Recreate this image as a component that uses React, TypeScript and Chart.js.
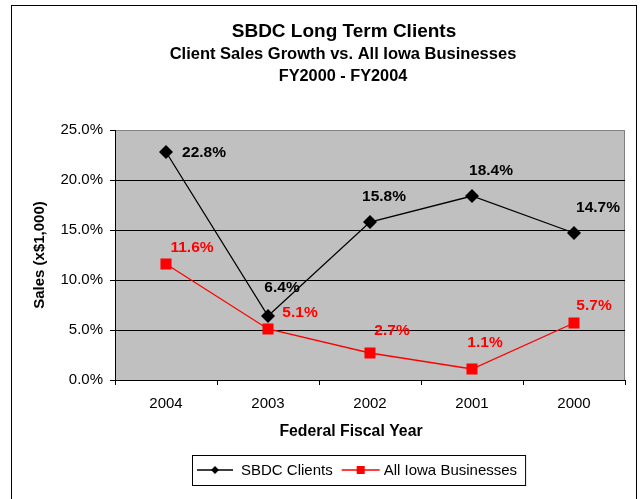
import React, { useEffect, useRef } from "react";
import { Chart, registerables } from "chart.js";

Chart.register(...registerables);

// ---- data ----
const titleLines = [
  "SBDC Long Term Clients",
  "Client Sales Growth vs. All Iowa Businesses",
  "FY2000 - FY2004",
];
const categories = ["2004", "2003", "2002", "2001", "2000"];
const sbdcClients = [22.8, 6.4, 15.8, 18.4, 14.7];
const allIowaBusinesses = [11.6, 5.1, 2.7, 1.1, 5.7];
const seriesNames = ["SBDC Clients", "All Iowa Businesses"];
const yMin = 0;
const yMax = 25;
const yStep = 5;
const xAxisTitle = "Federal Fiscal Year";
const yAxisTitle = "Sales (x$1,000)";

// ---- styles ----
const FONT = '"Liberation Sans", Arial, Helvetica, sans-serif';
const seriesColors = ["#000000", "#FF0000"];
// data-label offsets (label centre relative to point), per series / per point
const labelOffsets = [
  [[38, 1], [14, -28], [14, -25], [19, -25], [24, -25]],
  [[26, -16], [32, -16], [22, -22], [13, -26], [20, -17]],
];

function drawMarker(ctx: CanvasRenderingContext2D, style: string, x: number, y: number, r: number, color: string) {
  ctx.save();
  ctx.fillStyle = color;
  ctx.beginPath();
  if (style === "rectRot") {
    ctx.moveTo(x, y - r);
    ctx.lineTo(x + r, y);
    ctx.lineTo(x, y + r);
    ctx.lineTo(x - r, y);
    ctx.closePath();
  } else {
    ctx.rect(x - r, y - r, 2 * r, 2 * r);
  }
  ctx.fill();
  ctx.restore();
}

const decorPlugin = {
  id: "excelDecor",
  beforeDraw(chart: any) {
    const { ctx, chartArea: a } = chart;
    ctx.save();
    ctx.fillStyle = "#FFFFFF";
    ctx.fillRect(0, 0, chart.width, chart.height);
    // outer border
    ctx.strokeStyle = "#000000";
    ctx.lineWidth = 1;
    ctx.strokeRect(11.5, 5.5, 625, 520);
    // plot area
    ctx.fillStyle = "#C0C0C0";
    ctx.fillRect(a.left, a.top, a.right - a.left, a.bottom - a.top);
    ctx.strokeStyle = "#808080";
    ctx.beginPath();
    ctx.moveTo(a.right - 0.5, a.top);
    ctx.lineTo(a.right - 0.5, a.bottom);
    ctx.stroke();
    ctx.restore();
  },
  afterDraw(chart: any) {
    const { ctx, chartArea: a } = chart;
    ctx.save();
    ctx.fillStyle = "#000000";
    ctx.textAlign = "center";
    ctx.textBaseline = "middle";
    // titles
    ctx.font = `bold 19px ${FONT}`;
    ctx.fillText(titleLines[0], 344, 32);
    ctx.font = `bold 16.5px ${FONT}`;
    ctx.fillText(titleLines[1], 343, 54);
    ctx.font = `bold 16.3px ${FONT}`;
    ctx.fillText(titleLines[2], 343, 77);
    // x axis title
    ctx.font = `bold 15.8px ${FONT}`;
    ctx.fillText(xAxisTitle, 351, 432);
    // y axis title
    ctx.save();
    ctx.translate(40, (a.top + a.bottom) / 2);
    ctx.rotate(-Math.PI / 2);
    ctx.font = `bold 15px ${FONT}`;
    ctx.fillText(yAxisTitle, 0, 0);
    ctx.restore();

    // legend
    ctx.font = `15px ${FONT}`;
    const w1 = ctx.measureText(seriesNames[0]).width;
    const w2 = ctx.measureText(seriesNames[1]).width;
    const total = 5 + 36 + 8 + w1 + 9 + 38 + 4 + w2 + 8;
    const cx = 359;
    const left = Math.round(cx - total / 2);
    const top = 455;
    const h = 30;
    const midY = top + h / 2;
    ctx.strokeStyle = "#000000";
    ctx.lineWidth = 1;
    ctx.strokeRect(left + 0.5, top + 0.5, total, h);
    let x = left + 5;
    const items = [
      { name: seriesNames[0], color: seriesColors[0], style: "rectRot", len: 36, gap: 8, r: 4, w: w1 },
      { name: seriesNames[1], color: seriesColors[1], style: "rect", len: 38, gap: 4, r: 4, w: w2 },
    ];
    items.forEach((it, i) => {
      ctx.strokeStyle = it.color;
      ctx.lineWidth = 1.5;
      ctx.beginPath();
      ctx.moveTo(x, midY);
      ctx.lineTo(x + it.len, midY);
      ctx.stroke();
      drawMarker(ctx, it.style, x + it.len / 2, midY, it.r, it.color);
      x += it.len + it.gap;
      ctx.fillStyle = "#000000";
      ctx.textAlign = "left";
      ctx.fillText(it.name, x, midY + 1);
      x += it.w + (i === 0 ? 9 : 0);
    });
    ctx.restore();
  },
  afterDatasetsDraw(chart: any) {
    const { ctx } = chart;
    ctx.save();
    ctx.font = `bold 15.5px ${FONT}`;
    ctx.textAlign = "center";
    ctx.textBaseline = "middle";
    chart.data.datasets.forEach((ds: any, di: number) => {
      const meta = chart.getDatasetMeta(di);
      ctx.fillStyle = seriesColors[di];
      meta.data.forEach((pt: any, i: number) => {
        const v = ds.data[i] as number;
        const off = labelOffsets[di][i];
        ctx.fillText(v.toFixed(1) + "%", pt.x + off[0], pt.y + off[1]);
      });
    });
    ctx.restore();
  },
};

export default function App() {
  const ref = useRef<HTMLCanvasElement | null>(null);
  useEffect(() => {
    if (!ref.current) return;
    Chart.defaults.font.family = FONT;
    Chart.defaults.color = "#000000";
    const chart = new Chart(ref.current, {
      type: "line",
      data: {
        labels: categories,
        datasets: [
          {
            label: seriesNames[0],
            data: sbdcClients,
            borderColor: seriesColors[0],
            backgroundColor: seriesColors[0],
            borderWidth: 1.3,
            pointStyle: "rectRot",
            pointRadius: 7,
            pointBorderWidth: 0,
            pointBackgroundColor: seriesColors[0],
            tension: 0,
          },
          {
            label: seriesNames[1],
            data: allIowaBusinesses,
            borderColor: seriesColors[1],
            backgroundColor: seriesColors[1],
            borderWidth: 1.3,
            pointStyle: "rect",
            pointRadius: 7.8,
            pointBorderWidth: 0,
            pointBackgroundColor: seriesColors[1],
            tension: 0,
          },
        ],
      },
      options: {
        responsive: false,
        animation: false,
        events: [],
        layout: { padding: { left: 0, top: 130, right: 15, bottom: 0 } },
        plugins: {
          legend: { display: false },
          title: { display: false },
          tooltip: { enabled: false },
        },
        scales: {
          x: {
            type: "category",
            offset: true,
            afterFit: (s: any) => {
              s.height = 119;
            },
            grid: {
              display: true,
              offset: true,
              drawOnChartArea: false,
              drawTicks: true,
              tickLength: 5,
              tickColor: "#000000",
              color: "#000000",
            },
            border: { display: true, color: "#000000", width: 1 },
            ticks: {
              font: { size: 15, family: FONT },
              color: "#000000",
              padding: 10,
              maxRotation: 0,
            },
          },
          y: {
            min: yMin,
            max: yMax,
            afterFit: (s: any) => {
              s.width = 115;
            },
            ticks: {
              stepSize: yStep,
              font: { size: 15, family: FONT },
              color: "#000000",
              padding: 7,
              callback: (v: any) => Number(v).toFixed(1) + "%",
            },
            grid: {
              color: (c: any) => (c.tick && c.tick.value === yMax ? "#808080" : "#000000"),
              tickColor: "#000000",
              tickLength: 5,
              lineWidth: 1,
            },
            border: { display: true, color: "#000000", width: 1 },
          },
        },
      },
      plugins: [decorPlugin],
    });
    return () => chart.destroy();
  }, []);
  return (
    <div style={{ position: "absolute", left: 0, top: 0, width: 640, height: 499 }}>
      <canvas ref={ref} width={640} height={499} style={{ display: "block" }} />
    </div>
  );
}
